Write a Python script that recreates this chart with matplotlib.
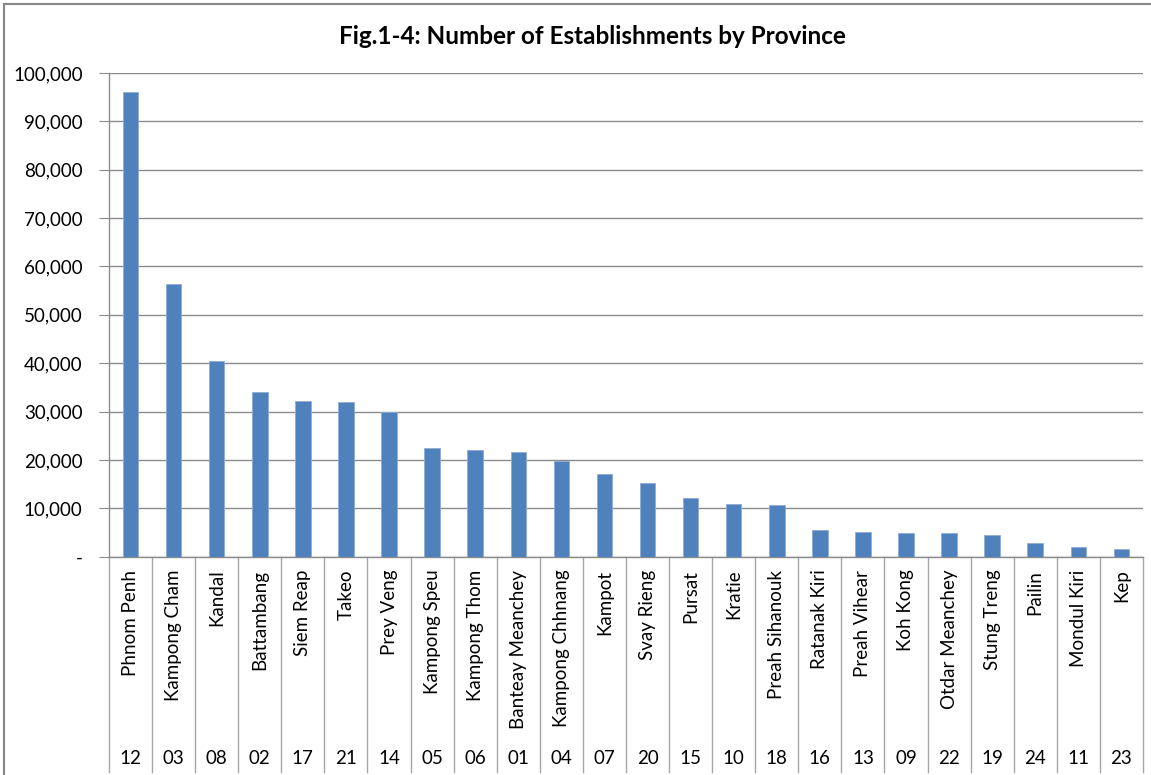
import matplotlib
matplotlib.use('Agg')
import matplotlib.pyplot as plt
import matplotlib.transforms as mtransforms
from matplotlib.patches import Rectangle

plt.rcParams['font.family'] = ['Lato', 'DejaVu Sans']

provinces = ['Phnom Penh', 'Kampong Cham', 'Kandal', 'Battambang', 'Siem Reap', 'Takeo',
             'Prey Veng', 'Kampong Speu', 'Kampong Thom', 'Banteay Meanchey', 'Kampong Chhnang',
             'Kampot', 'Svay Rieng', 'Pursat', 'Kratie', 'Preah Sihanouk', 'Ratanak Kiri',
             'Preah Vihear', 'Koh Kong', 'Otdar Meanchey', 'Stung Treng', 'Pailin',
             'Mondul Kiri', 'Kep']
codes = ['12', '03', '08', '02', '17', '21', '14', '05', '06', '01', '04', '07',
         '20', '15', '10', '18', '16', '13', '09', '22', '19', '24', '11', '23']
establishments = [96000, 56300, 40400, 34100, 32100, 31900, 30000, 22400, 22150, 21600,
                  19750, 17000, 15200, 12050, 10900, 10650, 5450, 5100, 4900, 4900,
                  4450, 2900, 2100, 1650]

fig = plt.figure(figsize=(11.51, 7.75), dpi=100)
ax = fig.add_axes([0.0947, 0.2817, 0.8983, 0.6241])

# chart border (left and top visible)
fig.patches.append(Rectangle((4 / 1151, -0.05), 1.2, 1.05 - 4 / 775, transform=fig.transFigure,
                             fill=False, edgecolor='#888888', linewidth=1.5))

x = list(range(len(provinces)))
ax.bar(x, establishments, width=0.36, color='#4F81BD', edgecolor='#8EADD6', linewidth=0.6, zorder=3)

ax.set_xlim(-0.5, len(provinces) - 0.5)
ax.set_ylim(0, 100000)
ax.set_yticks(range(0, 100001, 10000))
ax.set_yticklabels(['-'] + ['{:,}'.format(v) for v in range(10000, 100001, 10000)], fontsize=13.5)
ax.yaxis.grid(True, color='#8C8C8C', linewidth=1.0, zorder=0)
ax.tick_params(axis='y', length=7, color='#8C8C8C', pad=12)

for s in ['top', 'right']:
    ax.spines[s].set_visible(False)
for s in ['left', 'bottom']:
    ax.spines[s].set_color('#8C8C8C')
    ax.spines[s].set_linewidth(1.0)

# two-level category axis
ax.set_xticks([])
trans = mtransforms.blended_transform_factory(ax.transData, ax.transAxes)
for i, (name, code) in enumerate(zip(provinces, codes)):
    ax.text(i, -0.027, name, rotation=90, ha='center', va='top', fontsize=13.5, transform=trans)
    ax.text(i, -0.418, code, ha='center', va='center', fontsize=13.5, transform=trans)
for i in range(len(provinces) + 1):
    ax.plot([i - 0.5, i - 0.5], [0, -0.445], color='#A6A6A6', linewidth=1.0,
            transform=trans, clip_on=False)

fig.text(0.515, 0.953, 'Fig.1-4: Number of Establishments by Province', ha='center', va='center',
         fontsize=17.5, fontweight='bold')

fig.savefig('out.png', dpi=100)
